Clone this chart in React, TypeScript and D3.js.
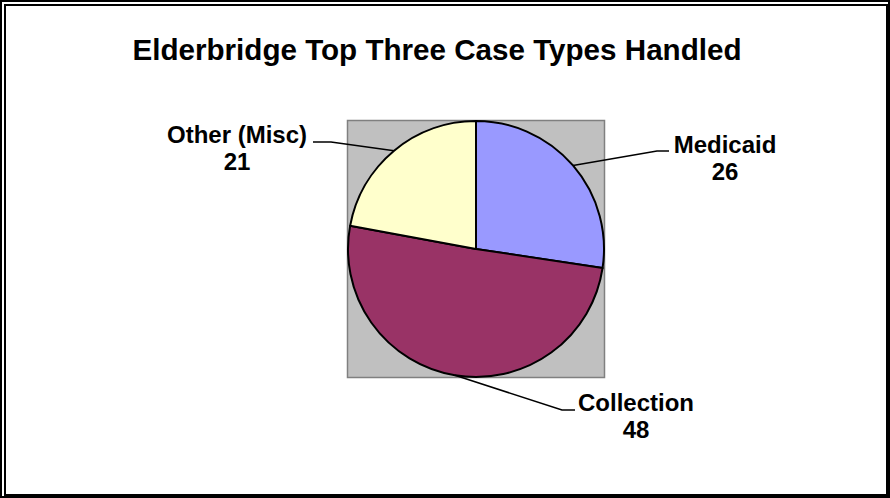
import * as d3 from 'd3';
import { useEffect, useRef } from 'react';

const categories = ['Medicaid', 'Collection', 'Other (Misc)'];
const values = [26, 48, 21];
const colors = ['#9999FF', '#993366', '#FFFFCC'];
const title = 'Elderbridge Top Three Case Types Handled';

// label anchor (center x, first baseline) and leader elbow for each slice
const labelPos = [
  { x: 725, y: 153, elbow: [657, 151], end: [669, 151] },
  { x: 636, y: 411, elbow: [562, 410], end: [575, 410] },
  { x: 237, y: 143, elbow: [331, 142], end: [313, 142] },
];

const W = 890;
const H = 498;
const FONT = "'Liberation Sans', Arial, Helvetica, sans-serif";

export default function App() {
  const ref = useRef<SVGSVGElement>(null);

  useEffect(() => {
    const svg = d3.select(ref.current);
    svg.selectAll('*').remove();

    svg.append('rect').attr('width', W).attr('height', H).attr('fill', '#fff');

    // double frame
    svg.append('rect')
      .attr('x', 1).attr('y', 1).attr('width', W - 2).attr('height', H - 2)
      .attr('fill', 'none').attr('stroke', '#000').attr('stroke-width', 2);
    svg.append('rect')
      .attr('x', 5).attr('y', 5).attr('width', W - 8).attr('height', H - 8)
      .attr('fill', 'none').attr('stroke', '#000').attr('stroke-width', 2);

    svg.append('text')
      .attr('x', 437).attr('y', 60)
      .attr('text-anchor', 'middle')
      .style('font-family', FONT)
      .style('font-weight', 'bold')
      .style('font-size', '29.6px')
      .text(title);

    // plot area
    const cx = 476, cy = 249, r = 128;
    svg.append('rect')
      .attr('x', cx - r - 0.5).attr('y', cy - r - 0.5)
      .attr('width', 2 * r + 1).attr('height', 2 * r + 1)
      .attr('fill', '#C0C0C0').attr('stroke', '#808080').attr('stroke-width', 1.5);

    const pie = d3.pie<number>().sort(null).value(d => d);
    const arcs = pie(values);
    const arc = d3.arc<d3.PieArcDatum<number>>().innerRadius(0).outerRadius(r);

    const g = svg.append('g').attr('transform', `translate(${cx},${cy})`);
    g.selectAll('path')
      .data(arcs)
      .enter()
      .append('path')
      .attr('d', arc)
      .attr('fill', (_d, i) => colors[i])
      .attr('stroke', '#000')
      .attr('stroke-width', 2)
      .attr('stroke-linejoin', 'round');

    arcs.forEach((a, i) => {
      const mid = (a.startAngle + a.endAngle) / 2;
      const sx = cx + r * Math.sin(mid);
      const sy = cy - r * Math.cos(mid);
      const lp = labelPos[i];
      svg.append('polyline')
        .attr('points', `${sx},${sy} ${lp.elbow[0]},${lp.elbow[1]} ${lp.end[0]},${lp.end[1]}`)
        .attr('fill', 'none')
        .attr('stroke', '#000')
        .attr('stroke-width', 1.5);

      const t = svg.append('text')
        .attr('text-anchor', 'middle')
        .style('font-family', FONT)
        .style('font-weight', 'bold')
        .style('font-size', '24px');
      t.append('tspan').attr('x', lp.x).attr('y', lp.y).text(categories[i]);
      t.append('tspan').attr('x', lp.x).attr('y', lp.y + 27).text(String(values[i]));
    });
  }, []);

  return (
    <svg
      ref={ref}
      width={W}
      height={H}
      style={{ position: 'absolute', left: 0, top: 0, display: 'block' }}
    />
  );
}
